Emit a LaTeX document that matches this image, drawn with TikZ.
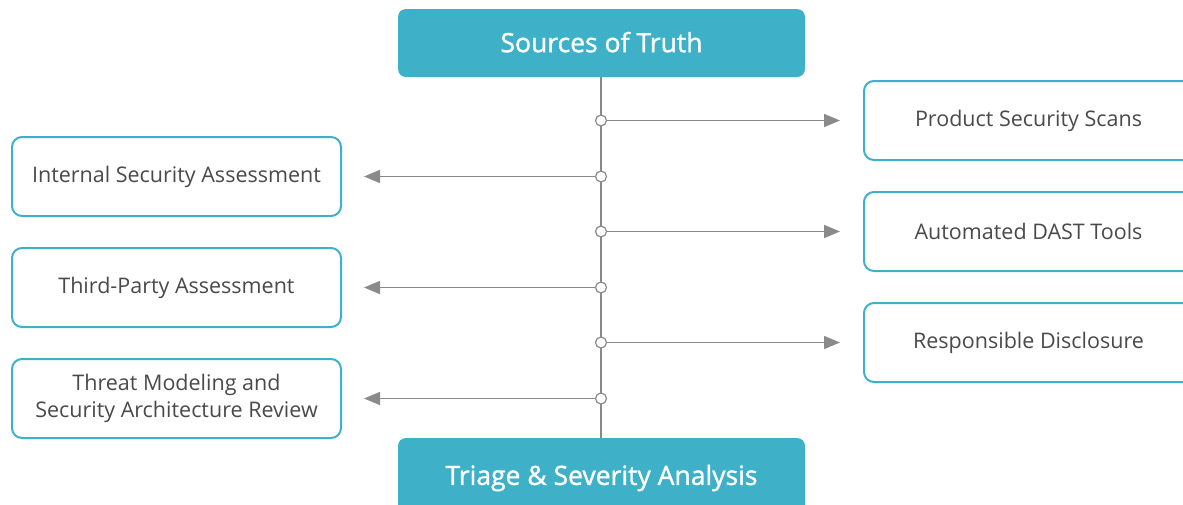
\documentclass[tikz,border=0pt]{standalone}
\usepackage{fontspec}
\setmainfont{Open Sans}
\newfontfamily\headfont[FakeBold=1.2]{Open Sans}
\usetikzlibrary{arrows.meta}
\definecolor{teal}{HTML}{3EB1C8}
\definecolor{linegray}{HTML}{8A8A8A}
\definecolor{textgray}{HTML}{4A4A4A}
\tikzset{
  header/.style={fill=teal, rounded corners=8pt, minimum width=407pt, minimum height=68pt,
    text=white, font=\headfont\fontsize{26.5}{32}\selectfont, inner sep=0pt},
  srcbox/.style={draw=teal, line width=2pt, fill=white, rounded corners=10pt,
    minimum width=329pt, minimum height=79pt, text=textgray, align=center,
    font=\fontsize{21.5}{27}\selectfont, inner sep=0pt},
  junction/.style={circle, draw=linegray, fill=white, line width=1.2pt, minimum size=11pt, inner sep=0pt},
  trunk/.style={draw=linegray, line width=1.6pt},
  feed/.style={draw=linegray, line width=1.6pt, -{Triangle[length=16pt,width=13pt]}}
}
\begin{document}
\begin{tikzpicture}[x=1pt,y=-1pt]
\useasboundingbox (0,0) rectangle (1183,504);
\clip (0,0) rectangle (1183,504);
% header boxes
\node[header] (top) at (601.5,43) {\raisebox{2pt}{Sources of Truth}};
\node[header, minimum height=80pt] (bot) at (601.5,478) {\raisebox{-2pt}{Triage \& Severity Analysis}};
% source boxes
\node[srcbox] (p1) at (1028.5,120.5) {Product Security Scans};
\node[srcbox] (p2) at (1028.5,231.5) {Automated DAST Tools};
\node[srcbox] (p3) at (1028.5,342.5) {Responsible Disclosure};
\node[srcbox] (q1) at (176.5,176.5) {Internal Security Assessment};
\node[srcbox] (q2) at (176.5,287.5) {Third-Party Assessment};
\node[srcbox] (q3) at (176.5,398.5) {Threat Modeling and\\Security Architecture Review};
% junction coordinates
\coordinate (j1) at (601,120.5);
\coordinate (j2) at (601,176.5);
\coordinate (j3) at (601,231.5);
\coordinate (j4) at (601,287.5);
\coordinate (j5) at (601,342.5);
\coordinate (j6) at (601,398.5);
% trunk
\draw[trunk] (top.south -| j1) -- (bot.north -| j1);
% arrows
\draw[feed, shorten >=23pt] (j1) -- (p1.west);
\draw[feed, shorten >=23pt] (j3) -- (p2.west);
\draw[feed, shorten >=23pt] (j5) -- (p3.west);
\draw[feed, shorten >=22pt] (j2) -- (q1.east);
\draw[feed, shorten >=22pt] (j4) -- (q2.east);
\draw[feed, shorten >=22pt] (j6) -- (q3.east);
% junction circles
\foreach \j in {j1,j2,j3,j4,j5,j6} \node[junction] at (\j) {};
\end{tikzpicture}
\end{document}
